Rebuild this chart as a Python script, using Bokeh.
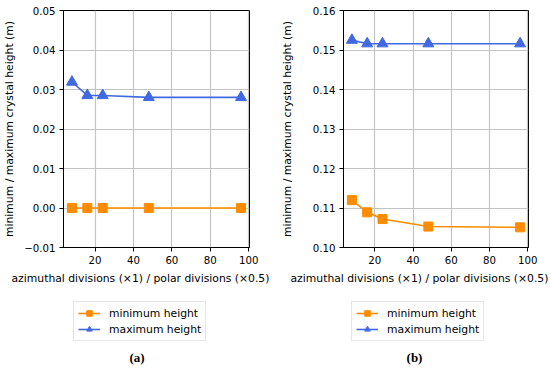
from bokeh.plotting import figure
from bokeh.models import (Range1d, FixedTicker, CustomJSTickFormatter, Title, Legend, LegendItem, Label)
from bokeh.layouts import row, column
from bokeh.embed import file_html
from bokeh.resources import INLINE

x_divs = [8, 16, 24, 48, 96]
min_a = [0.0, 0.0, 0.0, 0.0, 0.0]
max_a = [0.0319, 0.0285, 0.0285, 0.0280, 0.0280]
min_b = [0.1120, 0.1089, 0.1072, 0.1053, 0.1051]
max_b = [0.1525, 0.1516, 0.1516, 0.1516, 0.1516]
x_ticks = [20, 40, 60, 80, 100]
y_ticks_a = [-0.01, 0.0, 0.01, 0.02, 0.03, 0.04, 0.05]
y_ticks_b = [0.10, 0.11, 0.12, 0.13, 0.14, 0.15, 0.16]
x_label = "azimuthal divisions (\u00d71) / polar divisions (\u00d70.5)"
y_label = "minimum / maximum crystal height (m)"
captions = ["(a)", "(b)"]
series_names = ["minimum height", "maximum height"]

ORANGE = "#ff8c00"
BLUE = "#4169e1"
FONT = "DejaVu Sans"
MAIN_H = 290
TOTAL_H = 368


def make_panel(ymin, ymax, yticks, ymins, ymaxs, caption, width, left_border, right_border,
               label_standoff, xlabel_off, legend_x, caption_x):
    frame_w = width - left_border - right_border
    p = figure(output_backend="svg", toolbar_location=None,
               width=width, height=MAIN_H,
               min_border_left=left_border, min_border_right=right_border,
               min_border_top=10, min_border_bottom=MAIN_H - 247,
               x_range=Range1d(3.6, 100.4), y_range=Range1d(ymin, ymax),
               background_fill_color="white", border_fill_color="white")
    p.outline_line_color = "black"
    p.outline_line_width = 1
    p.xaxis.ticker = FixedTicker(ticks=x_ticks)
    p.yaxis.ticker = FixedTicker(ticks=yticks)
    p.yaxis.formatter = CustomJSTickFormatter(
        code="return tick.toFixed(2).replace('-', '\\u2212');")
    for ax in (p.xaxis[0], p.yaxis[0]):
        ax.major_tick_in = 0
        ax.major_tick_out = 4
        ax.minor_tick_in = 0
        ax.minor_tick_out = 0
        ax.major_label_standoff = 4
        ax.major_label_text_font = FONT
        ax.major_label_text_font_size = "10.2px"
        ax.major_label_text_color = "black"
        ax.axis_line_color = "black"
        ax.major_tick_line_color = "black"
    p.yaxis.axis_label = y_label
    p.yaxis.axis_label_text_font = FONT
    p.yaxis.axis_label_text_font_size = "10.8px"
    p.yaxis.axis_label_text_font_style = "normal"
    p.yaxis.axis_label_text_color = "black"
    p.yaxis.axis_label_standoff = label_standoff
    p.grid.grid_line_color = "#c4c4c4"
    p.grid.grid_line_width = 1.2

    p.line(x_divs, ymins, line_color=ORANGE, line_width=1.6)
    p.scatter(x_divs, ymins, marker="square", size=9, fill_color=ORANGE, line_color=ORANGE)
    p.line(x_divs, ymaxs, line_color=BLUE, line_width=1.6)
    p.scatter(x_divs, ymaxs, marker="triangle", size=11, fill_color=BLUE, line_color=BLUE)

    p.add_layout(Title(text=x_label, align="left", offset=xlabel_off, standoff=6,
                       text_font=FONT, text_font_size="10.8px", text_font_style="normal",
                       text_color="black"), "below")

    # legend + caption strip below the chart (its frame lines up with the chart frame)
    lh = TOTAL_H - MAIN_H
    q = figure(output_backend="svg", toolbar_location=None, width=width, height=lh,
               min_border_left=left_border, min_border_right=right_border,
               min_border_top=0, min_border_bottom=0,
               x_range=Range1d(0, frame_w), y_range=Range1d(0, lh),
               background_fill_color="white", border_fill_color="white")
    q.axis.visible = False
    q.grid.visible = False
    q.outline_line_color = None
    k1 = q.line(x_divs, ymins, line_color=ORANGE, line_width=1.6, visible=False)
    m1 = q.scatter(x_divs, ymins, marker="square", size=9, fill_color=ORANGE,
                   line_color=ORANGE, visible=False)
    k2 = q.line(x_divs, ymaxs, line_color=BLUE, line_width=1.6, visible=False)
    m2 = q.scatter(x_divs, ymaxs, marker="triangle", size=11, fill_color=BLUE,
                   line_color=BLUE, visible=False)
    legend = Legend(items=[LegendItem(label=series_names[0], renderers=[k1, m1]),
                           LegendItem(label=series_names[1], renderers=[k2, m2])],
                    location=(legend_x, TOTAL_H - 341), padding=4, margin=0, spacing=2,
                    glyph_width=22, glyph_height=14, label_height=14, label_standoff=9,
                    label_text_font=FONT, label_text_font_size="10.8px",
                    label_text_color="black",
                    border_line_color="#cccccc", border_line_width=1,
                    background_fill_color="white", background_fill_alpha=1.0,
                    inactive_fill_alpha=0.0)
    q.add_layout(legend, "center")
    q.add_layout(Label(x=caption_x, y=TOTAL_H - 357, text=caption, text_align="center",
                       text_baseline="middle", text_font="Liberation Serif",
                       text_font_size="13px", text_font_style="bold", text_color="black"))
    return column(p, q, spacing=0)


pa = make_panel(-0.01, 0.05, y_ticks_a, min_a, max_a, captions[0], width=277,
                left_border=62, right_border=28, label_standoff=5,
                xlabel_off=-52, legend_x=10, caption_x=136 - 62)
pb = make_panel(0.10, 0.16, y_ticks_b, min_b, max_b, captions[1], width=273,
                left_border=66, right_border=22, label_standoff=16,
                xlabel_off=-53, legend_x=8, caption_x=414 - 343)

layout = row(pa, pb, spacing=0)
open("out.html", "w").write(file_html(layout, INLINE))
